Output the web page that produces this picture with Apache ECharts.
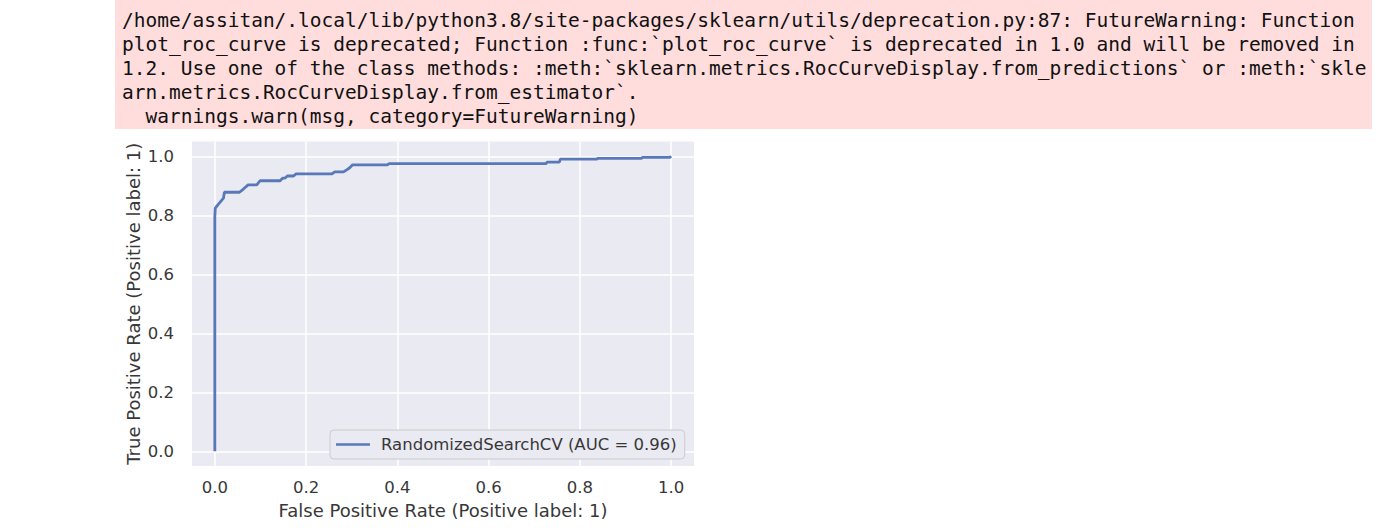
<!DOCTYPE html>
<html>
<head>
<meta charset="utf-8">
<script src="https://cdn.jsdelivr.net/npm/echarts@6/dist/echarts.min.js"></script>
<style>
  html, body { margin: 0; padding: 0; background: #ffffff; }
  #chart { width: 1387px; height: 532px; }
</style>
</head>
<body>
<div id="chart"></div>
<script>
// ---- data ----
const warningLines = [
  "/home/assitan/.local/lib/python3.8/site-packages/sklearn/utils/deprecation.py:87: FutureWarning: Function",
  "plot_roc_curve is deprecated; Function :func:`plot_roc_curve` is deprecated in 1.0 and will be removed in",
  "1.2. Use one of the class methods: :meth:`sklearn.metrics.RocCurveDisplay.from_predictions` or :meth:`skle",
  "arn.metrics.RocCurveDisplay.from_estimator`.",
  "  warnings.warn(msg, category=FutureWarning)"
];
const seriesName = "RandomizedSearchCV (AUC = 0.96)";
const xAxisTitle = "False Positive Rate (Positive label: 1)";
const yAxisTitle = "True Positive Rate (Positive label: 1)";
const xTicks = [0, 0.2, 0.4, 0.6, 0.8, 1.0];
const yTicks = [0, 0.2, 0.4, 0.6, 0.8, 1.0];
const fpr = [0.000, 0.000, 0.001, 0.008, 0.019, 0.021, 0.054, 0.062, 0.073, 0.092, 0.099,
             0.143, 0.149, 0.154, 0.159, 0.172, 0.178, 0.256, 0.263, 0.282, 0.289, 0.295,
             0.302, 0.378, 0.382, 0.726, 0.728, 0.755, 0.757, 0.837, 0.839, 0.935, 0.937,
             0.997, 1.000];
const tpr = [0.000, 0.794, 0.824, 0.838, 0.858, 0.878, 0.878, 0.888, 0.903, 0.903, 0.917,
             0.917, 0.926, 0.926, 0.933, 0.933, 0.940, 0.940, 0.947, 0.947, 0.954, 0.960,
             0.971, 0.971, 0.975, 0.975, 0.980, 0.980, 0.990, 0.990, 0.993, 0.993, 0.996,
             0.996, 1.000];

// ---- chart ----
const chart = echarts.init(document.getElementById('chart'), null, { renderer: 'svg' });
const monoFont = '"DejaVu Sans Mono", "Liberation Mono", monospace';
const sansFont = '"DejaVu Sans", "Liberation Sans", sans-serif';
const monoSize = 19.5;
const charW = monoSize * 0.602;

const graphics = [{
  type: 'rect', z: 0, silent: true,
  shape: { x: 115, y: 0, width: 1257, height: 129 },
  style: { fill: '#ffdddd' }
}];
warningLines.forEach((line, i) => {
  const lead = line.length - line.replace(/^ +/, '').length;
  graphics.push({
    type: 'text', z: 1, silent: true,
    x: 122 + lead * charW, y: 20 + i * 24,
    style: {
      text: line.replace(/^ +/, ''),
      font: monoSize + 'px ' + monoFont,
      fill: '#111111',
      verticalAlign: 'middle', align: 'left'
    }
  });
});

const textColor = '#383838';
const lineColor = '#5879b8';
chart.setOption({
  animation: false,
  backgroundColor: '#ffffff',
  graphic: graphics,
  grid: {
    left: 192, top: 141.5, width: 502, height: 324.5,
    show: true, backgroundColor: '#eaeaf2', borderWidth: 0
  },
  legend: {
    left: 330, top: 430,
    orient: 'horizontal',
    padding: [6, 8, 6, 6],
    backgroundColor: '#eaeaf2',
    borderColor: '#cccccc', borderWidth: 1, borderRadius: 4,
    icon: 'rect',
    itemWidth: 34, itemHeight: 2.6,
    itemStyle: { color: lineColor, borderWidth: 0 },
    textStyle: { color: textColor, fontFamily: sansFont, fontSize: 16.5, lineHeight: 17, padding: [0, 0, 0, 6] },
    data: [seriesName]
  },
  xAxis: {
    type: 'value', min: -0.05, max: 1.05,
    name: xAxisTitle, nameLocation: 'middle', nameGap: 35,
    nameTextStyle: { color: textColor, fontFamily: sansFont, fontSize: 18 },
    axisLine: { show: false },
    axisTick: { show: false, customValues: xTicks },
    axisLabel: {
      customValues: xTicks, margin: 13,
      color: textColor, fontFamily: sansFont, fontSize: 16.5,
      formatter: v => v.toFixed(1)
    },
    splitLine: { show: true, lineStyle: { color: '#ffffff', width: 1.5 } }
  },
  yAxis: {
    type: 'value', min: -0.05, max: 1.05,
    name: yAxisTitle, nameLocation: 'middle', nameGap: 50,
    nameTextStyle: { color: textColor, fontFamily: sansFont, fontSize: 18 },
    axisLine: { show: false },
    axisTick: { show: false, customValues: yTicks },
    axisLabel: {
      customValues: yTicks, margin: 18,
      color: textColor, fontFamily: sansFont, fontSize: 16.5,
      formatter: v => v.toFixed(1)
    },
    splitLine: { show: true, lineStyle: { color: '#ffffff', width: 1.5 } }
  },
  series: [{
    name: seriesName,
    type: 'line',
    showSymbol: false,
    symbol: 'none',
    clip: false,
    lineStyle: { color: lineColor, width: 2.8 },
    itemStyle: { color: lineColor },
    data: fpr.map((x, i) => [x, tpr[i]])
  }]
});
</script>
</body>
</html>
